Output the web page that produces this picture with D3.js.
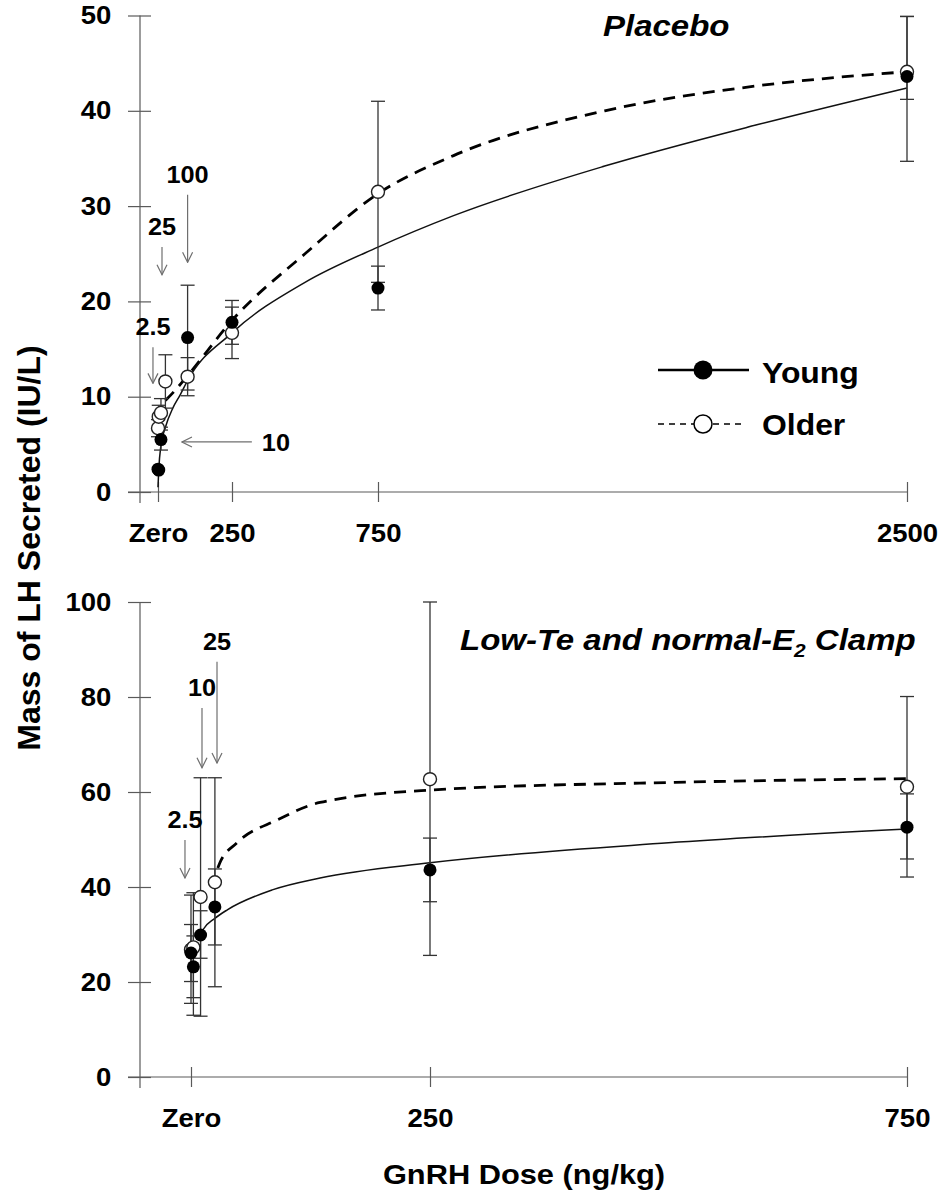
<!DOCTYPE html>
<html>
<head>
<meta charset="utf-8">
<script src="https://cdn.jsdelivr.net/npm/d3@7"></script>
<style>
  body { margin: 0; background: #fff; }
  text { font-family: Arial, "Liberation Sans", sans-serif; font-weight: bold; fill: #000; }
</style>
</head>
<body>
<script>
// ---- Placebo panel (top) ----
const placeboXTicks = [0, 250, 750, 2500];
const placeboYTicks = [0, 10, 20, 30, 40, 50];

const placeboYoungDose = [0, 2.5, 10, 100, 250, 750, 2500];
const placeboYoung     = [2.4, 2.3, 5.5, 16.2, 17.8, 21.4, 43.6];
const placeboYoungLo   = [2.4, 2.3, 4.4, 10.7, 15.5, 19.1, 34.7];
const placeboYoungHi   = [2.4, 2.3, 6.5, 21.7, 20.1, 23.7, 49.9];

const placeboOlderDose = [0, 2.5, 10, 25, 100, 250, 750, 2500];
const placeboOlder     = [6.7, 7.9, 8.3, 11.6, 12.1, 16.7, 31.5, 44.1];
const placeboOlderLo   = [5.8, 6.7, 6.8, 8.8, 10.1, 14.0, 22.0, 41.2];
const placeboOlderHi   = [7.6, 9.1, 9.8, 14.4, 14.1, 19.4, 41.0, 49.9];

// fitted curves
const placeboYoungFitDose = [0, 2.5, 10, 25, 50, 75, 100, 250, 500, 750, 1000, 1500, 2000, 2500];
const placeboYoungFit     = [0.5, 2.3, 4.9, 6.8, 8.8, 10.2, 11.7, 16.7, 22.0, 25.7, 29.0, 34.2, 38.5, 42.4];
const placeboOlderFitDose = [25, 50, 100, 250, 500, 750, 1000, 1500, 2000, 2500];
const placeboOlderFit     = [9.6, 10.4, 12.2, 18.0, 25.0, 31.3, 35.3, 40.0, 42.6, 44.1];

// dose annotations: label, arrow tail (x1,y1) -> tip (x2,y2) in data units
const placeboArrows = [
  {label: "100", x1: 100, y1: 31.2, x2: 100, y2: 24.1},
  {label: "25",  x1: 13.5, y1: 25.7, x2: 13.5, y2: 22.8},
  {label: "2.5", x1: -17, y1: 15.2, x2: -17, y2: 11.4},
  {label: "10",  x1: 318, y1: 5.25, x2: 81, y2: 5.25}
];

// ---- Clamp panel (bottom) ----
const clampXTicks = [0, 250, 750];
const clampYTicks = [0, 20, 40, 60, 80, 100];

const clampYoungDose = [0, 2.5, 10, 25, 250, 750];
const clampYoung     = [26.1, 23.2, 29.9, 35.8, 43.6, 52.6];
const clampYoungLo   = [20.1, 16.7, 25.0, 27.8, 36.9, 45.9];
const clampYoungHi   = [32.1, 29.7, 35.0, 43.8, 50.3, 59.6];

const clampOlderDose = [0, 2.5, 10, 25, 250, 750];
const clampOlder     = [26.8, 27.3, 37.9, 41.0, 62.7, 61.1];
const clampOlderLo   = [15.5, 13.0, 12.8, 19.0, 25.6, 42.1];
const clampOlderHi   = [38.3, 38.8, 63.0, 63.0, 100, 80.1];

const clampYoungFitDose = [10, 12.5, 25, 38, 85, 135, 250, 500, 750];
const clampYoungFit     = [30.0, 31.0, 33.4, 35.2, 39.4, 41.9, 45.1, 49.3, 52.2];
const clampOlderFitDose = [28, 30, 48, 90, 135, 250, 500, 750];
const clampOlderFit     = [44.0, 45.0, 49.3, 54.1, 57.8, 60.4, 62.0, 62.8];

const clampArrows = [
  {label: "25",  x1: 27.2, y1: 87.4, x2: 27.2, y2: 66.1},
  {label: "10",  x1: 11.5, y1: 77.7, x2: 11.5, y2: 65.1},
  {label: "2.5", x1: -6.3, y1: 49.9, x2: -6.3, y2: 41.9}
];

const seriesNames = ["Young", "Older"];

// ---- layout ----
const width = 948, height = 1194;
const SX = 1.1;          // text in the original is slightly stretched horizontally
const axisX = 140;
const axisColor = "#5a5a5a";

const svg = d3.select("body").append("svg")
    .attr("width", width)
    .attr("height", height);

const defs = svg.append("defs");
defs.append("marker")
    .attr("id", "head")
    .attr("markerUnits", "userSpaceOnUse")
    .attr("viewBox", "0 0 12 12")
    .attr("markerWidth", 12).attr("markerHeight", 12)
    .attr("refX", 11).attr("refY", 6)
    .attr("orient", "auto")
  .append("path")
    .attr("d", "M1,1 L11,6 L1,11")
    .attr("fill", "none")
    .attr("stroke", "#6f6f6f")
    .attr("stroke-width", 1.2);

const label = (g, x, y, str, size, anchor = "start") =>
  g.append("text")
    .attr("transform", `translate(${x},${y}) scale(${SX},1)`)
    .attr("text-anchor", anchor)
    .attr("font-size", size)
    .text(str);

function panel(cfg) {
  const {x, y} = cfg;
  const g = svg.append("g");

  // y axis
  const yAxis = g.append("g")
      .attr("transform", `translate(${axisX},0)`)
      .call(d3.axisLeft(y).tickValues(cfg.yTicks).tickSize(12).tickPadding(14));
  yAxis.select(".domain").remove();
  yAxis.attr("font-family", null);
  yAxis.selectAll(".tick line").attr("x1", 11).attr("stroke", axisColor).attr("stroke-width", 1.2);
  yAxis.selectAll(".tick text")
      .attr("font-size", 25)
      .attr("transform", `scale(${SX},1)`);

  // x axis
  const y0 = y(0);
  const xAxis = g.append("g")
      .attr("transform", `translate(0,${y0})`)
      .call(d3.axisBottom(x).tickValues(cfg.xTicks).tickSize(10).tickPadding(22)
        .tickFormat(d => d === 0 ? "Zero" : d));
  xAxis.select(".domain").remove();
  xAxis.attr("font-family", null);
  xAxis.selectAll(".tick line").attr("y1", -10).attr("stroke", axisColor).attr("stroke-width", 1.2);
  xAxis.selectAll(".tick text")
      .attr("font-size", 25)
      .attr("transform", `scale(${SX},1)`);

  g.append("line")
      .attr("x1", axisX).attr("x2", axisX)
      .attr("y1", y.range()[1]).attr("y2", y0 + 11)
      .attr("stroke", axisColor).attr("stroke-width", 1.2);
  g.append("line")
      .attr("x1", axisX - 12).attr("x2", x(cfg.xTicks[cfg.xTicks.length - 1]))
      .attr("y1", y0).attr("y2", y0)
      .attr("stroke", axisColor).attr("stroke-width", 1.2);

  // fitted curves
  const line = d3.line().x(d => x(d[0])).y(d => y(d[1])).curve(d3.curveMonotoneX);
  g.append("path")
      .datum(d3.zip(cfg.olderFitDose, cfg.olderFit))
      .attr("d", line)
      .attr("fill", "none").attr("stroke", "#000")
      .attr("stroke-width", 2.8).attr("stroke-dasharray", "12,8");
  g.append("path")
      .datum(d3.zip(cfg.youngFitDose, cfg.youngFit))
      .attr("d", line)
      .attr("fill", "none").attr("stroke", "#111")
      .attr("stroke-width", 1.5);

  // error bars
  const bars = d3.zip(cfg.olderDose, cfg.olderLo, cfg.olderHi)
    .concat(d3.zip(cfg.youngDose, cfg.youngLo, cfg.youngHi))
    .filter(d => d[1] !== d[2]);
  const eb = g.append("g").attr("stroke", "#333").attr("stroke-width", 1.3);
  eb.selectAll("line.v").data(bars).join("line")
      .attr("class", "v")
      .attr("x1", d => x(d[0])).attr("x2", d => x(d[0]))
      .attr("y1", d => y(d[1])).attr("y2", d => y(d[2]));
  eb.selectAll("line.lo").data(bars).join("line")
      .attr("class", "lo")
      .attr("x1", d => x(d[0]) - 7).attr("x2", d => x(d[0]) + 7)
      .attr("y1", d => y(d[1])).attr("y2", d => y(d[1]));
  eb.selectAll("line.hi").data(bars).join("line")
      .attr("class", "hi")
      .attr("x1", d => x(d[0]) - 7).attr("x2", d => x(d[0]) + 7)
      .attr("y1", d => y(d[2])).attr("y2", d => y(d[2]));

  // points: older (open) under young (filled)
  g.selectAll("circle.older").data(d3.zip(cfg.olderDose, cfg.older)).join("circle")
      .attr("class", "older")
      .attr("cx", d => x(d[0])).attr("cy", d => y(d[1])).attr("r", 6.5)
      .attr("fill", "#fff").attr("stroke", "#222").attr("stroke-width", 1.4);
  g.selectAll("circle.young").data(d3.zip(cfg.youngDose, cfg.young)).join("circle")
      .attr("class", "young")
      .attr("cx", d => x(d[0])).attr("cy", d => y(d[1])).attr("r", 6.5)
      .attr("fill", "#000");

  // dose annotations
  cfg.arrows.forEach(a => {
    g.append("line")
        .attr("x1", x(a.x1)).attr("y1", y(a.y1))
        .attr("x2", x(a.x2)).attr("y2", y(a.y2))
        .attr("stroke", "#6f6f6f").attr("stroke-width", 1.2)
        .attr("marker-end", "url(#head)");
    if (a.y1 === a.y2) {
      label(g, x(a.x1) + 10, y(a.y1) + 9, a.label, 23, "start");
    } else {
      label(g, x(a.x1), y(a.y1) - 12, a.label, 23, "middle");
    }
  });

  return g;
}

const xTop = d3.scaleLinear().domain(placeboXTicks).range([158, 232, 378, 907]);
const yTop = d3.scaleLinear().domain([0, 50]).range([492, 15.5]);
const xBot = d3.scaleLinear().domain(clampXTicks).range([191, 430, 907]);
const yBot = d3.scaleLinear().domain([0, 100]).range([1077, 602]);

const topPanel = panel({
  x: xTop, y: yTop, xTicks: placeboXTicks, yTicks: placeboYTicks,
  youngDose: placeboYoungDose, young: placeboYoung, youngLo: placeboYoungLo, youngHi: placeboYoungHi,
  olderDose: placeboOlderDose, older: placeboOlder, olderLo: placeboOlderLo, olderHi: placeboOlderHi,
  youngFitDose: placeboYoungFitDose, youngFit: placeboYoungFit,
  olderFitDose: placeboOlderFitDose, olderFit: placeboOlderFit,
  arrows: placeboArrows
});

const bottomPanel = panel({
  x: xBot, y: yBot, xTicks: clampXTicks, yTicks: clampYTicks,
  youngDose: clampYoungDose, young: clampYoung, youngLo: clampYoungLo, youngHi: clampYoungHi,
  olderDose: clampOlderDose, older: clampOlder, olderLo: clampOlderLo, olderHi: clampOlderHi,
  youngFitDose: clampYoungFitDose, youngFit: clampYoungFit,
  olderFitDose: clampOlderFitDose, olderFit: clampOlderFit,
  arrows: clampArrows
});

// panel titles
label(topPanel, 603, 36, "Placebo", 30).attr("font-style", "italic");
const t2 = label(bottomPanel, 460, 650, "Low-Te and normal-E", 30).attr("font-style", "italic");
t2.append("tspan").attr("font-size", 19).attr("dy", 7).text("2");
t2.append("tspan").attr("dy", -7).text(" Clamp");

// legend
const legend = topPanel.append("g").attr("transform", "translate(658,370)");
legend.append("line").attr("x1", 0).attr("x2", 91).attr("stroke", "#000").attr("stroke-width", 2.5);
legend.append("circle").attr("cx", 45).attr("r", 9.5).attr("fill", "#000");
label(legend, 104, 13, seriesNames[0], 29);
legend.append("line").attr("x1", 0).attr("x2", 87).attr("y1", 54).attr("y2", 54)
    .attr("stroke", "#000").attr("stroke-width", 1.5).attr("stroke-dasharray", "6,5");
legend.append("circle").attr("cx", 45).attr("cy", 54).attr("r", 9)
    .attr("fill", "#fff").attr("stroke", "#000").attr("stroke-width", 1.5);
label(legend, 104, 65, seriesNames[1], 29);

// axis titles
svg.append("text")
    .attr("transform", "translate(40,548) rotate(-90)")
    .attr("text-anchor", "middle")
    .attr("font-size", 32)
    .text("Mass of LH Secreted (IU/L)");
label(svg, 524, 1184, "GnRH Dose (ng/kg)", 28, "middle");
</script>
</body>
</html>
